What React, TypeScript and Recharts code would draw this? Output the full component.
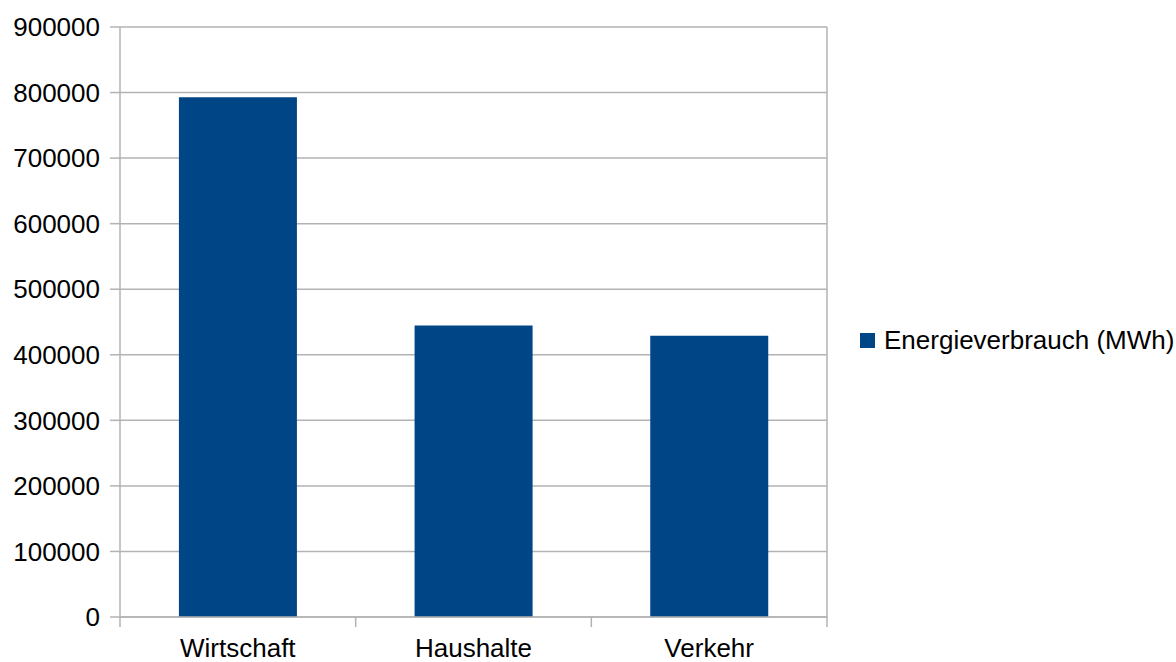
import React from "react";
import { BarChart, Bar, XAxis, YAxis, CartesianGrid } from "recharts";

const categories = ["Wirtschaft", "Haushalte", "Verkehr"];
const energyValues = [792800, 444500, 429200];
const yTicks = [0, 100000, 200000, 300000, 400000, 500000, 600000, 700000, 800000, 900000];
const seriesName = "Energieverbrauch (MWh)";

const data = categories.map((c, i) => ({ name: c, value: energyValues[i] }));

const FONT = '"Liberation Sans", Arial, sans-serif';
const GRID = "#b3b3b3";
const BAR = "#004586";
const TICK_LEN = 10;
const TICK_GAP = 12;

function CategoryTick(props: any) {
  const { x, y, payload, index, visibleTicksCount, width } = props;
  const half = width / visibleTicksCount / 2;
  const top = y - TICK_LEN - TICK_GAP;
  return (
    <g>
      <line x1={x - half} x2={x - half} y1={top} y2={top + TICK_LEN} stroke={GRID} strokeWidth={1.5} />
      {index === visibleTicksCount - 1 && (
        <line x1={x + half} x2={x + half} y1={top} y2={top + TICK_LEN} stroke={GRID} strokeWidth={1.5} />
      )}
      <text x={x} y={y} dy="0.71em" textAnchor="middle" fill="#000" fontSize={26} fontFamily={FONT}>
        {payload.value}
      </text>
    </g>
  );
}

export default function App() {
  return (
    <div style={{ position: "absolute", left: 0, top: 0, width: 1176, height: 662, background: "#fff" }}>
      <BarChart
        width={1176}
        height={662}
        data={data}
        margin={{ top: 27, right: 349, bottom: 0, left: 0 }}
        barCategoryGap="25%"
      >
        <CartesianGrid
          stroke={GRID}
          strokeWidth={1.5}
          verticalCoordinatesGenerator={({ offset }: any) => [offset.left + offset.width]}
        />
        <XAxis
          dataKey="name"
          height={45}
          axisLine={{ stroke: GRID, strokeWidth: 1.5 }}
          tickLine={false}
          tickSize={TICK_LEN}
          tickMargin={TICK_GAP}
          tick={<CategoryTick />}
          interval={0}
        />
        <YAxis
          width={120}
          domain={[0, 900000]}
          ticks={yTicks}
          interval={0}
          axisLine={{ stroke: GRID, strokeWidth: 1.5 }}
          tickLine={{ stroke: GRID, strokeWidth: 1.5 }}
          tickSize={TICK_LEN}
          tickMargin={10}
          tick={{ fill: "#000", fontSize: 26, fontFamily: FONT }}
        />
        <Bar dataKey="value" name={seriesName} fill={BAR} isAnimationActive={false} />
      </BarChart>
      <div
        style={{
          position: "absolute",
          left: 860,
          top: 325,
          display: "flex",
          alignItems: "center",
          fontFamily: FONT,
          fontSize: 26,
          color: "#000",
          whiteSpace: "nowrap",
        }}
      >
        <span style={{ width: 15, height: 15, background: BAR, display: "inline-block", marginRight: 9 }} />
        <span>{seriesName}</span>
      </div>
    </div>
  );
}
